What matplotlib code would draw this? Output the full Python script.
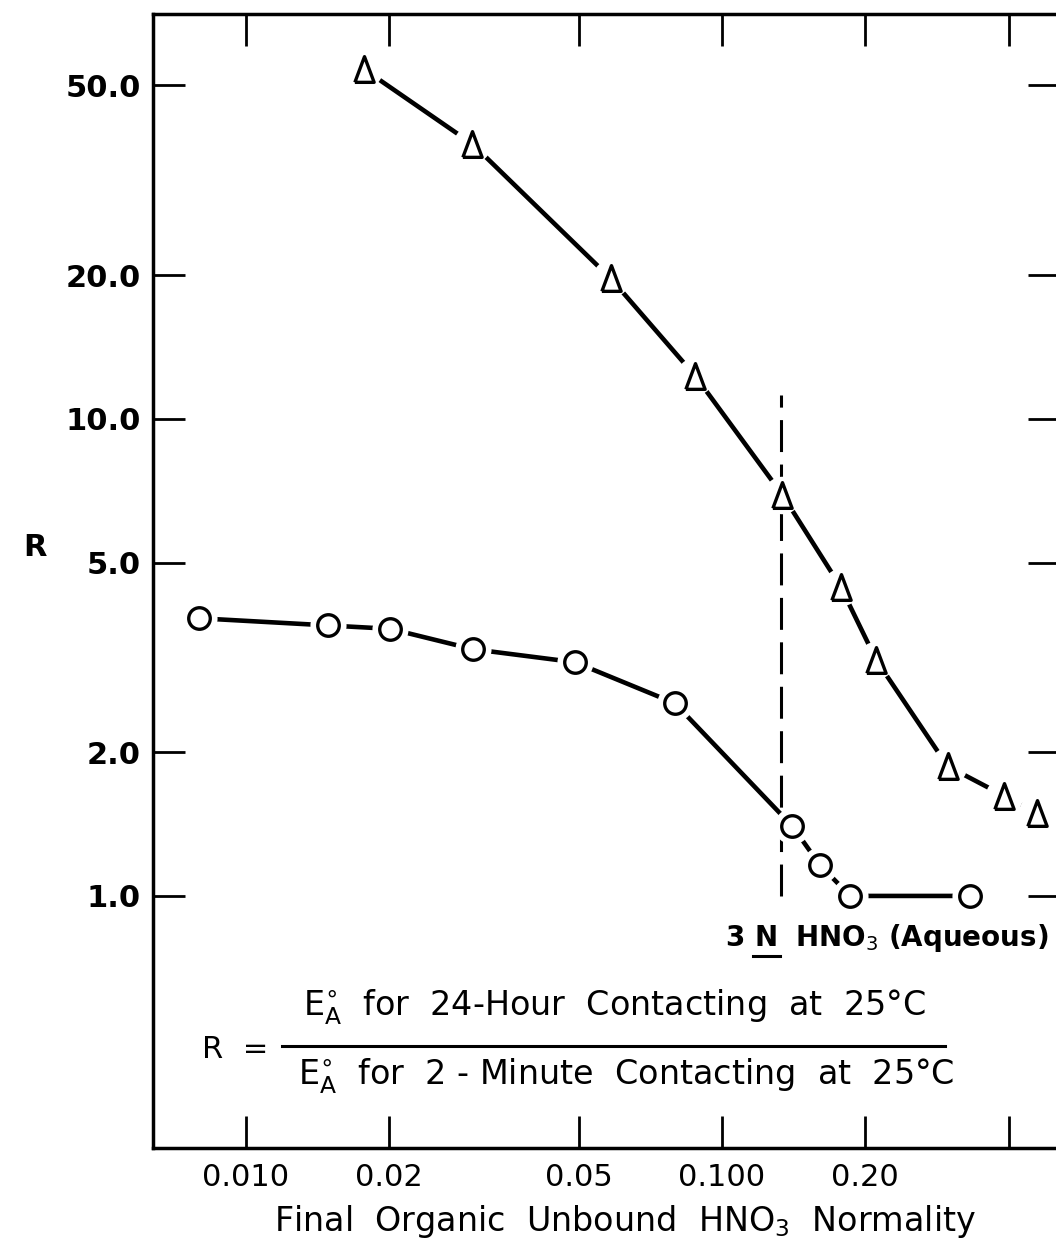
import numpy as np
import matplotlib.pyplot as plt
from matplotlib.lines import Line2D
from matplotlib.markers import MarkerStyle

plt.rcParams['font.family'] = 'DejaVu Sans'
plt.rcParams['mathtext.fontset'] = 'dejavusans'
plt.rcParams['lines.scale_dashes'] = False

# R vs final organic unbound HNO3 normality, two series
tri_x = [0.0177, 0.0299, 0.0584, 0.0879, 0.134, 0.1775, 0.211, 0.298, 0.392, 0.46]
tri_r = [54.1, 37.7, 19.7, 12.3, 6.93, 4.45, 3.12, 1.87, 1.62, 1.49]
circ_x = [0.00798, 0.0149, 0.0201, 0.0300, 0.0491, 0.0796, 0.1406, 0.1607, 0.186, 0.332]
circ_r = [3.82, 3.69, 3.63, 3.29, 3.09, 2.535, 1.40, 1.16, 1.0, 1.0]

# 3 N HNO3 (aqueous) marker line
ref_x = 0.133
ref_r = [1.0, 11.2]

x_ticks = [0.01, 0.02, 0.05, 0.1, 0.2, 0.4]
x_ticklabels = ['0.010', '0.02', '0.05', '0.100', '0.20', '']
y_ticks = [1, 2, 5, 10, 20, 50]
y_ticklabels = ['1.0', '2.0', '5.0', '10.0', '20.0', '50.0']

W, H = 1056, 1241
def fx(x):
    return x / W
def fy(y):
    return 1 - y / H

fig = plt.figure(figsize=(W / 100, H / 100), dpi=100)
ax = fig.add_axes([fx(153), fy(1148), (1060 - 153) / W, (1148 - 14) / H])
ax.set_xscale('log')
ax.set_yscale('log')
ax.set_xlim(0.00638, 0.513)
ax.set_ylim(0.2962, 70.6)

for s in ax.spines.values():
    s.set_linewidth(2.5)

ax.set_xticks(x_ticks)
ax.set_xticklabels(x_ticklabels, fontsize=22)
ax.set_yticks(y_ticks)
ax.set_yticklabels(y_ticklabels, fontsize=22, fontweight='bold')
ax.minorticks_off()
ax.tick_params(which='both', direction='in', top=True, right=True,
               length=23, width=2.0, pad=9)
ax.tick_params(axis='x', pad=11)

# vertical dashed line
ax.plot([ref_x, ref_x], ref_r, color='black', lw=2.2, dashes=(23, 9), zorder=1)

tri = MarkerStyle([(-0.75, -1), (0.75, -1), (0, 1), (-0.75, -1)], joinstyle='round')
for xs, rs, mk, ms, halo in [(tri_x, tri_r, tri, 18.5, 27), (circ_x, circ_r, 'o', 15.5, 26)]:
    ax.plot(xs, rs, color='black', lw=3.3, solid_capstyle='round', zorder=2)
    # white halo so the curve stops short of each point
    ax.plot(xs, rs, ls='none', marker='o', ms=halo, mfc='white', mec='none', zorder=3)
    ax.plot(xs, rs, ls='none', marker=mk, ms=ms, mfc='white', mec='black',
            mew=2.4, zorder=4)

# axis labels
fig.text(fx(35), fy(548), 'R', fontsize=22, fontweight='bold', ha='center', va='center')
fig.text(fx(625), fy(1222), r'Final  Organic  Unbound  HNO$_3$  Normality',
         fontsize=24, ha='center', va='center')

# annotation for the dashed line
fig.text(fx(735), fy(938), '3', fontsize=20, fontweight='bold', ha='center', va='center')
fig.text(fx(766), fy(938), 'N', fontsize=20, fontweight='bold', ha='center', va='center')
fig.add_artist(Line2D([fx(753), fx(780)], [fy(956), fy(956)], color='black', lw=2.2))
fig.text(fx(795), fy(938), r'HNO$_3$ (Aqueous)', fontsize=20, fontweight='bold',
         ha='left', va='center')

# definition of R
fig.text(fx(235), fy(1050), 'R  =', fontsize=22, ha='center', va='center')
fig.add_artist(Line2D([fx(282), fx(945)], [fy(1046), fy(1046)], color='black', lw=2.2))
fig.text(fx(614), fy(1007), r'$\mathrm{E}_{\mathrm{A}}^{\circ}$  for  24-Hour  Contacting  at  25°C',
         fontsize=24, ha='center', va='center')
fig.text(fx(626), fy(1076), r'$\mathrm{E}_{\mathrm{A}}^{\circ}$  for  2 - Minute  Contacting  at  25°C',
         fontsize=24, ha='center', va='center')

fig.savefig('out.png', dpi=100)
